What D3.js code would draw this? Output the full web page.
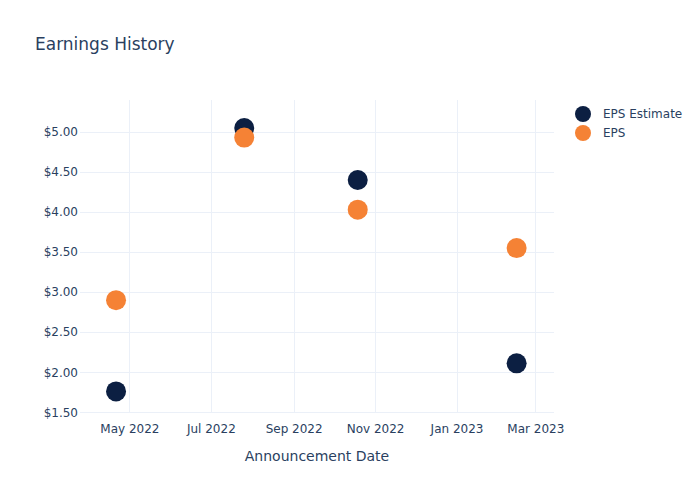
<!DOCTYPE html>
<html>

<head>
  <meta charset="utf-8">
  <title>Earnings History</title>
  <style>
    body {
      margin: 0;
      background: #fff;
      font-family: "DejaVu Sans", sans-serif;
    }

    svg text {
      fill: #2a3f5f;
    }

    .grid line {
      stroke: #ebf0f8;
      stroke-width: 1px;
    }
  </style>
</head>

<body>
  <svg width="700" height="500"></svg>

  <script src="https://d3js.org/d3.v7.min.js"></script>
  <script>
    // announcement dates and values
    var dates = ['2022-04-21', '2022-07-26', '2022-10-19', '2023-02-15'];
    var epsEstimate = [1.76, 5.05, 4.40, 2.11];
    var eps = [2.90, 4.93, 4.03, 3.55];
    var yTicks = [1.5, 2, 2.5, 3, 3.5, 4, 4.5, 5];
    var xTicks = ['2022-05-01', '2022-07-01', '2022-09-01', '2022-11-01', '2023-01-01', '2023-03-01'];

    var series = [
      { name: 'EPS Estimate', values: epsEstimate, color: '#0c1f42' },
      { name: 'EPS', values: eps, color: '#f58235' }
    ];

    var parse = d3.timeParse('%Y-%m-%d');
    var svg = d3.select('svg');

    var margin = { left: 80, right: 554, top: 100, bottom: 413 };

    var x = d3.scaleTime()
      .domain([parse('2022-03-25'), parse('2023-03-15')])
      .range([margin.left, margin.right]);

    var y = d3.scaleLinear()
      .domain([1.49, 5.40])
      .range([margin.bottom, margin.top]);

    // grid lines
    var grid = svg.append('g').attr('class', 'grid');
    grid.selectAll('line.h')
      .data(yTicks)
      .enter().append('line')
      .attr('x1', margin.left)
      .attr('x2', margin.right)
      .attr('y1', function(d) { return Math.round(y(d)) + 0.5; })
      .attr('y2', function(d) { return Math.round(y(d)) + 0.5; });
    grid.selectAll('line.v')
      .data(xTicks)
      .enter().append('line')
      .attr('y1', margin.top)
      .attr('y2', margin.bottom)
      .attr('x1', function(d) { return Math.round(x(parse(d))) + 0.5; })
      .attr('x2', function(d) { return Math.round(x(parse(d))) + 0.5; });

    // y axis labels
    var yAxis = svg.append('g')
      .attr('transform', 'translate(' + margin.left + ',0)')
      .call(d3.axisLeft(y)
        .tickValues(yTicks)
        .tickSize(0)
        .tickPadding(2)
        .tickFormat(d3.format('$.2f')));
    yAxis.select('.domain').remove();
    yAxis.selectAll('text').style('font-size', '12px').style('font-family', 'DejaVu Sans').style('fill', '#2a3f5f');

    // x axis labels
    var xAxis = svg.append('g')
      .attr('transform', 'translate(0,' + margin.bottom + ')')
      .call(d3.axisBottom(x)
        .tickValues(xTicks.map(parse))
        .tickSize(0)
        .tickPadding(11)
        .tickFormat(d3.timeFormat('%b %Y')));
    xAxis.select('.domain').remove();
    xAxis.selectAll('text').style('font-size', '12px').style('font-family', 'DejaVu Sans').style('fill', '#2a3f5f');

    // points
    series.forEach(function(s) {
      svg.append('g')
        .selectAll('circle')
        .data(s.values)
        .enter().append('circle')
        .attr('cx', function(d, i) { return x(parse(dates[i])); })
        .attr('cy', function(d) { return y(d); })
        .attr('r', 10)
        .attr('fill', s.color);
    });

    // title
    svg.append('text')
      .attr('x', 35)
      .attr('y', 50)
      .style('font-size', '17px')
      .text('Earnings History');

    // x axis title
    svg.append('text')
      .attr('x', (margin.left + margin.right) / 2)
      .attr('y', 461)
      .attr('text-anchor', 'middle')
      .style('font-size', '14px')
      .text('Announcement Date');

    // legend
    var legend = svg.append('g')
      .selectAll('g')
      .data(series)
      .enter().append('g')
      .attr('transform', function(d, i) { return 'translate(583,' + (114 + i * 19) + ')'; });
    legend.append('circle')
      .attr('r', 8)
      .attr('fill', function(d) { return d.color; });
    legend.append('text')
      .attr('x', 20)
      .attr('dy', '0.35em')
      .style('font-size', '12px')
      .text(function(d) { return d.name; });
  </script>
</body>

</html>
